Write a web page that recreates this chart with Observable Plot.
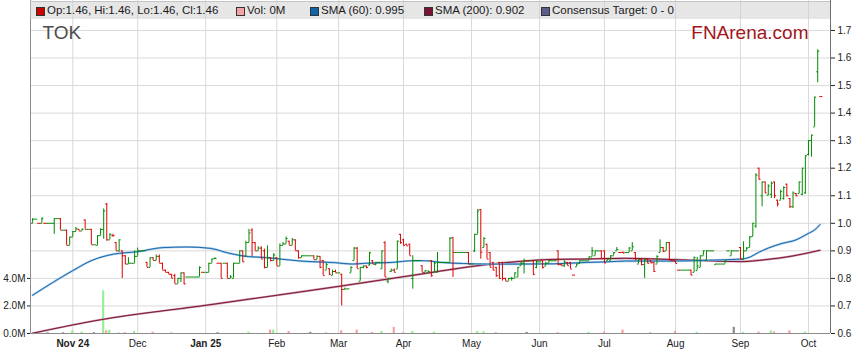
<!DOCTYPE html>
<html><head><meta charset="utf-8">
<script src="https://cdn.jsdelivr.net/npm/d3@7"></script>
<script src="https://cdn.jsdelivr.net/npm/@observablehq/plot@0.6"></script>
<style>
body{margin:0;background:#fff;font-family:"Liberation Sans",Arial,sans-serif;}
#wrap{position:relative;width:859px;height:363px;overflow:hidden;}
#legend{position:absolute;left:30px;top:1px;width:800px;height:17px;background:rgba(205,205,205,0.5);border-top:1px solid #c4c4c4;font-size:11.5px;color:#1a1a1a;}
.item{position:absolute;top:2px;white-space:nowrap;line-height:13px;}
.sw{position:absolute;left:-11px;top:3px;width:7px;height:7px;border:1px solid #333;}
</style></head>
<body><div id="wrap"><div id="chart"></div><div id="legend"></div></div>
<script>
// ---------- data (one bar per weekday starting 2024-10-15) ----------
const startDate = "2024-10-15";
const open = [
1.00,1.015,1.00,1.00,1.00,1.00,1.00,1.00,1.017,1.017,
0.975,0.975,0.92,0.95,0.97,0.978,0.972,1.012,0.978,0.978,
0.922,0.92,0.955,0.978,1.07,0.94,0.955,0.93,0.90,0.90,
0.882,0.852,0.855,0.855,0.88,0.90,0.90,0.858,0.84,0.875,
0.865,0.88,0.855,0.83,0.822,0.815,0.81,0.78,0.80,0.82,
0.805,0.805,0.805,0.805,0.805,0.822,0.822,0.822,0.855,0.872,
0.855,0.855,0.855,0.855,0.80,0.80,0.855,0.855,0.90,0.88,
0.93,0.975,0.93,0.90,0.91,0.90,0.84,0.875,0.865,0.875,
0.845,0.92,0.925,0.935,0.92,0.94,0.90,0.875,0.882,0.882,
0.882,0.882,0.868,0.88,0.865,0.83,0.835,0.81,0.825,0.82,
0.815,0.76,0.762,0.82,0.865,0.91,0.79,0.84,0.845,0.848,
0.864,0.85,0.858,0.835,0.93,0.79,0.825,0.83,0.834,0.96,
0.94,0.924,0.924,0.80,0.865,0.865,0.846,0.822,0.822,0.864,
0.822,0.822,0.858,0.858,0.858,0.858,0.948,0.894,0.894,0.894,
0.894,0.894,0.852,0.90,0.96,1.05,0.912,0.924,0.894,0.858,
0.84,0.858,0.858,0.80,0.79,0.80,0.80,0.805,0.846,0.855,
0.864,0.864,0.864,0.84,0.86,0.864,0.845,0.855,0.864,0.864,
0.90,0.85,0.846,0.858,0.858,0.812,0.842,0.854,0.864,0.864,
0.864,0.878,0.882,0.90,0.90,0.90,0.864,0.864,0.882,0.90,
0.894,0.894,0.894,0.894,0.90,0.894,0.852,0.87,0.85,0.87,
0.864,0.858,0.852,0.894,0.912,0.90,0.93,0.864,0.864,0.83,
0.83,0.83,0.83,0.83,0.822,0.828,0.84,0.882,0.866,0.90,
0.90,0.85,0.852,0.852,0.852,0.90,0.882,0.90,0.90,0.912,
0.868,0.90,0.912,0.952,0.99,1.20,1.10,1.15,1.102,1.105,
1.15,1.084,1.084,1.09,1.142,1.09,1.06,1.108,1.108,1.105,
1.11,1.25,1.30,1.35,1.55,1.46];
const high = [
1.017,1.015,1.00,1.02,1.00,1.00,1.00,1.017,1.017,1.017,
0.975,0.975,0.95,0.97,0.985,0.978,0.98,1.012,0.978,0.978,
0.922,0.955,0.98,1.052,1.072,0.962,0.96,0.93,0.94,0.90,
0.882,0.875,0.855,0.90,0.91,0.90,0.90,0.858,0.875,0.875,
0.885,0.885,0.855,0.83,0.822,0.815,0.815,0.80,0.82,0.82,
0.805,0.805,0.805,0.805,0.842,0.822,0.822,0.855,0.87,0.875,
0.855,0.855,0.855,0.855,0.81,0.855,0.855,0.90,0.90,0.935,
0.978,0.98,0.93,0.915,0.915,0.906,0.918,0.875,0.89,0.875,
0.925,0.93,0.95,0.935,0.945,0.94,0.90,0.882,0.882,0.882,
0.882,0.882,0.882,0.88,0.865,0.855,0.835,0.83,0.83,0.82,
0.815,0.765,0.762,0.842,0.912,0.912,0.84,0.845,0.845,0.895,
0.864,0.858,0.858,0.90,0.933,0.80,0.834,0.834,0.936,0.96,
0.942,0.924,0.924,0.882,0.865,0.865,0.846,0.828,0.828,0.864,
0.858,0.894,0.858,0.858,0.858,0.948,0.948,0.894,0.894,0.894,
0.894,0.894,0.852,0.96,1.05,1.05,0.948,0.924,0.894,0.858,
0.84,0.858,0.858,0.80,0.80,0.804,0.82,0.84,0.858,0.87,
0.864,0.864,0.864,0.864,0.86,0.864,0.858,0.864,0.864,0.864,
0.90,0.852,0.864,0.858,0.858,0.812,0.852,0.864,0.864,0.864,
0.878,0.912,0.90,0.90,0.90,0.90,0.87,0.882,0.894,0.912,
0.894,0.896,0.894,0.912,0.93,0.894,0.87,0.87,0.87,0.87,
0.864,0.858,0.882,0.94,0.912,0.93,0.93,0.864,0.864,0.83,
0.83,0.83,0.83,0.83,0.878,0.876,0.882,0.90,0.90,0.90,
0.90,0.852,0.852,0.852,0.864,0.90,0.90,0.90,0.90,0.912,
0.933,0.912,0.952,1.00,1.18,1.20,1.15,1.15,1.14,1.15,
1.15,1.084,1.12,1.133,1.142,1.09,1.114,1.108,1.15,1.20,
1.245,1.30,1.32,1.458,1.63,1.46];
const low = [
1.00,1.015,1.00,1.00,1.00,1.00,1.00,0.96,1.017,0.975,
0.975,0.92,0.92,0.95,0.97,0.972,0.972,0.978,0.978,0.922,
0.922,0.92,0.955,0.942,0.935,0.94,0.95,0.90,0.895,0.80,
0.85,0.852,0.855,0.855,0.88,0.90,0.90,0.84,0.84,0.865,
0.865,0.855,0.83,0.822,0.815,0.80,0.78,0.78,0.785,0.777,
0.805,0.805,0.805,0.805,0.805,0.822,0.822,0.822,0.855,0.87,
0.855,0.80,0.855,0.80,0.80,0.80,0.855,0.855,0.858,0.88,
0.93,0.88,0.90,0.90,0.87,0.835,0.84,0.86,0.865,0.845,
0.845,0.92,0.925,0.92,0.92,0.90,0.87,0.875,0.882,0.882,
0.882,0.868,0.868,0.835,0.81,0.83,0.81,0.81,0.82,0.82,
0.70,0.76,0.762,0.82,0.865,0.835,0.79,0.835,0.835,0.846,
0.852,0.846,0.858,0.834,0.804,0.78,0.822,0.822,0.834,0.924,
0.918,0.918,0.882,0.761,0.865,0.865,0.822,0.822,0.822,0.804,
0.822,0.822,0.858,0.858,0.858,0.858,0.804,0.894,0.894,0.894,
0.894,0.852,0.852,0.894,0.96,0.87,0.912,0.87,0.84,0.828,
0.804,0.797,0.79,0.79,0.79,0.79,0.80,0.804,0.846,0.816,
0.864,0.864,0.81,0.835,0.86,0.834,0.845,0.855,0.864,0.864,
0.846,0.846,0.84,0.846,0.834,0.812,0.842,0.854,0.864,0.864,
0.864,0.878,0.882,0.90,0.87,0.854,0.864,0.864,0.882,0.90,
0.894,0.89,0.894,0.894,0.90,0.864,0.852,0.846,0.80,0.852,
0.854,0.822,0.852,0.894,0.894,0.90,0.864,0.864,0.854,0.83,
0.83,0.83,0.83,0.81,0.822,0.828,0.84,0.882,0.866,0.90,
0.90,0.85,0.852,0.852,0.852,0.90,0.882,0.90,0.90,0.868,
0.868,0.90,0.912,0.952,0.982,1.157,1.06,1.108,1.10,1.09,
1.09,1.06,1.084,1.084,1.096,1.054,1.054,1.096,1.108,1.10,
1.105,1.245,1.24,1.35,1.51,1.46];
const close = [
1.015,1.015,1.00,1.017,1.00,1.00,1.00,1.017,1.017,0.975,
0.975,0.92,0.95,0.97,0.98,0.972,0.978,0.978,0.978,0.922,
0.922,0.955,0.978,1.045,0.94,0.96,0.955,0.90,0.94,0.882,
0.852,0.855,0.855,0.88,0.90,0.90,0.90,0.84,0.875,0.865,
0.88,0.855,0.83,0.822,0.815,0.80,0.78,0.80,0.82,0.78,
0.805,0.805,0.805,0.805,0.84,0.822,0.822,0.855,0.87,0.872,
0.855,0.80,0.855,0.80,0.805,0.855,0.855,0.90,0.86,0.93,
0.965,0.93,0.90,0.91,0.87,0.84,0.875,0.865,0.885,0.845,
0.92,0.925,0.945,0.92,0.94,0.90,0.875,0.882,0.882,0.882,
0.882,0.868,0.88,0.84,0.81,0.85,0.815,0.825,0.82,0.82,
0.76,0.762,0.762,0.84,0.91,0.835,0.84,0.845,0.84,0.893,
0.852,0.858,0.858,0.90,0.805,0.80,0.83,0.822,0.935,0.93,
0.92,0.918,0.882,0.865,0.865,0.865,0.822,0.828,0.825,0.81,
0.855,0.858,0.858,0.858,0.858,0.945,0.894,0.894,0.894,0.894,
0.894,0.852,0.852,0.96,1.045,0.895,0.945,0.87,0.84,0.83,
0.81,0.80,0.80,0.79,0.80,0.80,0.82,0.84,0.855,0.865,
0.864,0.864,0.815,0.86,0.86,0.84,0.855,0.864,0.864,0.864,
0.85,0.846,0.86,0.846,0.834,0.812,0.852,0.864,0.864,0.864,
0.878,0.90,0.90,0.90,0.872,0.856,0.87,0.882,0.894,0.905,
0.894,0.892,0.894,0.91,0.915,0.87,0.868,0.85,0.868,0.855,
0.856,0.825,0.88,0.912,0.898,0.93,0.866,0.864,0.854,0.83,
0.83,0.83,0.83,0.812,0.875,0.845,0.882,0.90,0.90,0.90,
0.90,0.852,0.852,0.852,0.864,0.90,0.90,0.90,0.90,0.87,
0.90,0.91,0.95,1.00,1.175,1.16,1.15,1.11,1.135,1.145,
1.10,1.07,1.115,1.13,1.10,1.06,1.11,1.10,1.15,1.20,
1.245,1.30,1.32,1.458,1.625,1.46];
// volume (millions) on selected trading-day indices
const volDay = [5,10,13,16,20,23,24,25,28,30,33,39,45,60,70,77,78,83,90,95,100,105,110,113,117,120,123,130,144,146,150,160,170,180,185,191,200,208,215,227,230,235,239,240,245,250];
const volM   = [0.06,0.05,0.2,0.1,0.06,3.1,0.2,0.25,0.05,0.06,0.15,0.1,0.05,0.06,0.1,0.25,0.25,0.15,0.08,0.06,0.2,0.25,0.08,0.15,0.45,0.06,0.15,0.1,0.15,0.12,0.06,0.08,0.06,0.08,0.1,0.25,0.06,0.15,0.08,0.45,0.08,0.1,0.2,0.12,0.2,0.1];
// moving averages (knots, by trading-day index)
const sma60Day = [0,12.8,19.3,26.2,33.9,42.3,50.1,57.5,63,67.8,76,86.7,98,103.4,107.7,116.3,122.8,127.1,132,139.4,147.1,157.8,168.5,179.4,185.9,191.8,208,218.7,229,232.2,234.8,238,242.5,246.8,250.6,253.3,254.7];
const sma60    = [0.739,0.827,0.866,0.888,0.897,0.912,0.914,0.909,0.893,0.882,0.875,0.863,0.857,0.852,0.855,0.858,0.864,0.864,0.858,0.854,0.852,0.852,0.853,0.858,0.86,0.863,0.863,0.866,0.870,0.878,0.894,0.91,0.927,0.939,0.961,0.979,0.995];
const sma200Day = [0,22,56.5,86.7,100.2,127.1,141.7,157.8,168.5,177.2,191.8,208,229.6,237.1,245.7,254.7];
const sma200    = [0.601,0.65,0.703,0.751,0.773,0.818,0.843,0.862,0.869,0.870,0.873,0.868,0.861,0.868,0.881,0.902];
const priceTicks = [0.6,0.7,0.8,0.9,1.0,1.1,1.2,1.3,1.4,1.5,1.6,1.7];
const volTicks = [0, 2, 4];
const monthLabels = ["Nov 24","Dec","Jan 25","Feb","Mar","Apr","May","Jun","Jul","Aug","Sep","Oct"];
const legendLabels = [null, "Vol: 0M", null, null, "Consensus Target: 0 - 0"];
const legendColors = ["#cc0000","#f4a3a3","#0f63a8","#7a1236","#5b5b8c"];

// ---------- derived ----------
const volPerUnit = 20; // 20M of volume per 1.0 of price scale (4.0M aligns with 0.80)
const dates = [];
{ const d = new Date(startDate + "T00:00:00Z");
  while (dates.length < close.length) { const w = d.getUTCDay(); if (w !== 0 && w !== 6) dates.push(new Date(d)); d.setUTCDate(d.getUTCDate() + 1); } }
const monthStarts = dates.map((d, k) => k).filter(k => k > 0 && dates[k].getUTCMonth() !== dates[k - 1].getUTCMonth());
const labelOf = new Map(monthStarts.map((k, j) => [k, monthLabels[j]]));
const boldKs = monthStarts.filter(k => /\d/.test(labelOf.get(k)));
const plainKs = monthStarts.filter(k => !/\d/.test(labelOf.get(k)));

const bars = close.map((c, k) => {
  const o = open[k];
  const up = c > o ? true : c < o ? false : (k === 0 || c >= close[k - 1]);
  return {k, o, h: high[k], l: low[k], c, up};
});
const vols = volDay.map((k, j) => ({k, v: volM[j], up: bars[k].up, flat: bars[k].o === bars[k].c}));
const s60 = sma60Day.map((k, j) => ({k, v: sma60[j]}));
const s200 = sma200Day.map((k, j) => ({k, v: sma200[j]}));

const GREEN = "#008a00", RED = "#dd0000";
const xDomain = [-0.68, 258.13];
const yDomain = [0.6, 0.6 + 333 / 275.5];

const chart = Plot.plot({
  width: 859, height: 363,
  marginLeft: 30, marginRight: 29, marginTop: 0, marginBottom: 30,
  x: {domain: xDomain, axis: null, label: null},
  y: {domain: yDomain, axis: null, label: null},
  style: {fontFamily: "'Liberation Sans', Arial, sans-serif", fontSize: "10px", color: "#222", background: "#fff"},
  marks: [
    Plot.ruleY(priceTicks, {stroke: "#d9d9d9", strokeOpacity: 1}),
    Plot.ruleX(monthStarts, {stroke: "#d9d9d9", strokeOpacity: 1}),
    Plot.rect(vols, {x1: d => d.k - 0.35, x2: d => d.k + 0.35, y1: d => 0.6, y2: d => 0.6 + d.v / volPerUnit,
      fill: d => d.flat ? "#8a8a8a" : d.up ? "#94f094" : "#f7a0a0"}),
    Plot.line(s200, {x: "k", y: "v", stroke: "#c99aa9", strokeWidth: 2.2, curve: "monotone-x"}),
    Plot.line(s200, {x: "k", y: "v", stroke: "#7d1436", strokeWidth: 1, curve: "monotone-x"}),
    Plot.line(s60, {x: "k", y: "v", stroke: "#a6cbea", strokeWidth: 2.2, curve: "monotone-x"}),
    Plot.line(s60, {x: "k", y: "v", stroke: "#1767aa", strokeWidth: 1, curve: "monotone-x"}),
    Plot.ruleX(bars.filter(d => d.h > d.l), {x: "k", y1: "l", y2: "h", stroke: d => d.up ? GREEN : RED}),
    Plot.link(bars, {x1: d => d.k - 0.5, x2: "k", y1: "o", y2: "o", stroke: d => d.up ? GREEN : RED}),
    Plot.link(bars, {x1: "k", x2: d => d.k + 0.5, y1: "c", y2: "c", stroke: d => d.up ? GREEN : RED}),
    Plot.ruleX([xDomain[0]], {stroke: "#8c8c8c"}),
    Plot.ruleX([xDomain[1]], {stroke: "#6e6e6e"}),
    Plot.ruleY([0.6], {stroke: "#8c8c8c"}),
    Plot.axisY({anchor: "right", label: null, ticks: priceTicks, tickFormat: d3.format(".1f"), tickSize: 4, tickPadding: 3, fontSize: 10}),
    Plot.axisY({anchor: "left", label: null, ticks: volTicks.map(v => 0.6 + v / volPerUnit), tickFormat: y => ((y - 0.6) * volPerUnit).toFixed(1) + "M", tickSize: 3, tickPadding: 2, fontSize: 10}),
    Plot.axisX({label: null, ticks: boldKs, tickFormat: k => labelOf.get(k), tickSize: 0, tickPadding: 6, fontWeight: "bold", fontSize: 10}),
    Plot.axisX({label: null, ticks: plainKs, tickFormat: k => labelOf.get(k), tickSize: 0, tickPadding: 6, fontSize: 10}),
    Plot.text(["TOK"], {frameAnchor: "top-left", dx: 12, dy: 25, lineAnchor: "top", textAnchor: "start", fontSize: 19, fill: "#4d4d4d"}),
    Plot.text(["FNArena.com"], {frameAnchor: "top-right", dx: -22, dy: 25, lineAnchor: "top", textAnchor: "end", fontSize: 19, fill: "#a3161c"})
  ]
});
document.getElementById("chart").appendChild(chart);

// ---------- legend ----------
const last = bars[bars.length - 1];
const f2 = d3.format(".2f"), f3 = d3.format(".3f");
const texts = [
  `Op:${f2(last.o)}, Hi:${f2(last.h)}, Lo:${f2(last.l)}, Cl:${f2(last.c)}`,
  legendLabels[1],
  `SMA (60): ${f3(sma60[sma60.length - 1])}`,
  `SMA (200): ${f3(sma200[sma200.length - 1])}`,
  legendLabels[4]
];
const legendLeft = [17, 217, 291, 405, 522];
const lg = document.getElementById("legend");
texts.forEach((t, j) => {
  const it = document.createElement("div");
  it.className = "item";
  it.style.left = legendLeft[j] + "px";
  const sw = document.createElement("span");
  sw.className = "sw"; sw.style.background = legendColors[j];
  it.appendChild(sw);
  it.appendChild(document.createTextNode(t));
  lg.appendChild(it);
});
</script>
</body></html>
